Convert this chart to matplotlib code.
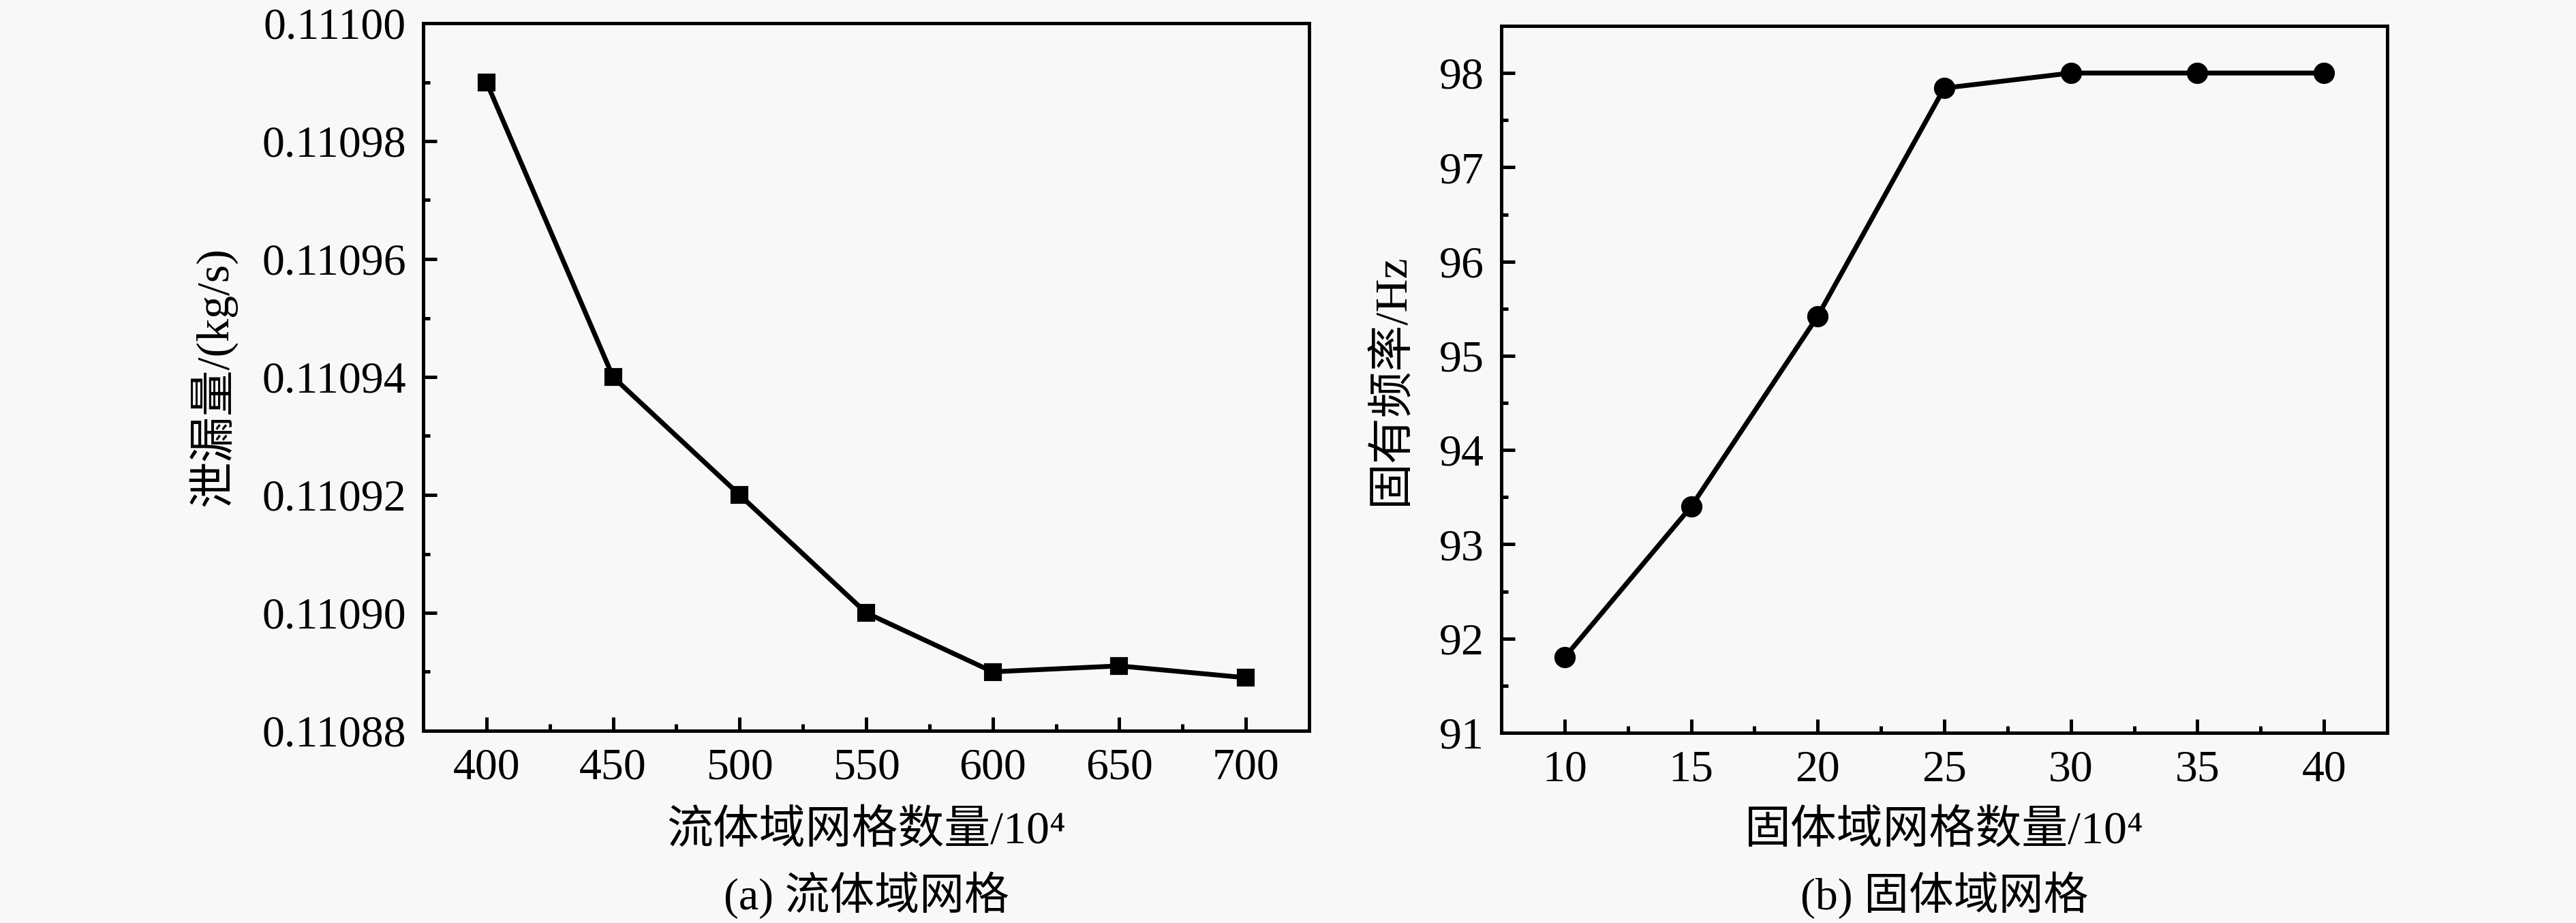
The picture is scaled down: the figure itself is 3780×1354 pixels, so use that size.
import matplotlib
matplotlib.use("Agg")
import matplotlib.pyplot as plt
from matplotlib.ticker import MultipleLocator, FormatStrFormatter

# ---- data ----
fluid_mesh = [400, 450, 500, 550, 600, 650, 700]
leakage = [0.11099, 0.11094, 0.11092, 0.11090, 0.110890, 0.110891, 0.110889]

solid_mesh = [10, 15, 20, 25, 30, 35, 40]
frequency = [91.80, 93.40, 95.42, 97.84, 98.00, 98.00, 98.00]

left_xlabel = "流体域网格数量/10⁴"
left_ylabel = "泄漏量/(kg/s)"
left_caption = "(a) 流体域网格"
right_xlabel = "固体域网格数量/10⁴"
right_ylabel = "固有频率/Hz"
right_caption = "(b) 固体域网格"

FAM = ["Liberation Serif", "DejaVu Serif", "Noto Sans CJK SC"]
plt.rcParams["font.family"] = FAM
plt.rcParams["axes.unicode_minus"] = False
BG = "#f8f8f8"
FS = 15.8
FS_LAB = 16.3

fig = plt.figure(figsize=(12.6, 1354 / 300), dpi=300, facecolor=BG)

W, H = 3780, 1354


def make_axes(l, r, t, b):
    return fig.add_axes([l / W, 1 - b / H, (r - l) / W, (b - t) / H])


axL = make_axes(621, 1921, 34, 1072)
axR = make_axes(2203, 3503, 38, 1075)

for ax in (axL, axR):
    ax.set_facecolor(BG)
    for s in ax.spines.values():
        s.set_linewidth(1.2)
    ax.tick_params(which="both", direction="in", top=False, right=False,
                   labelsize=FS, width=1.2, pad=6)
    ax.tick_params(which="major", length=4.8)
    ax.tick_params(which="minor", length=2.4)

axL.plot(fluid_mesh, leakage, color="black", lw=1.7, marker="s", ms=5.5)
axL.set_xlim(375, 725)
axL.set_ylim(0.11088, 0.11100)
axL.xaxis.set_major_locator(MultipleLocator(50))
axL.xaxis.set_minor_locator(MultipleLocator(25))
axL.yaxis.set_major_locator(MultipleLocator(0.00002))
axL.yaxis.set_minor_locator(MultipleLocator(0.00001))
axL.yaxis.set_major_formatter(FormatStrFormatter("%.5f"))

axR.plot(solid_mesh, frequency, color="black", lw=1.7, marker="o", ms=6.5)
axR.set_xlim(7.5, 42.5)
axR.set_ylim(91, 98.5)
axR.xaxis.set_major_locator(MultipleLocator(5))
axR.xaxis.set_minor_locator(MultipleLocator(2.5))
axR.yaxis.set_major_locator(MultipleLocator(1))
axR.yaxis.set_minor_locator(MultipleLocator(0.5))
axR.yaxis.set_major_formatter(FormatStrFormatter("%d"))


def labels(ax, xl, yl, cap, left, top, bottom, ylab_x):
    w = 1300
    h = bottom - top
    ax.set_xlabel(xl, fontsize=FS_LAB, va="center")
    ax.xaxis.set_label_coords(0.5, (bottom - 1220) / h)
    ax.set_ylabel(yl, fontsize=FS_LAB, va="center")
    ax.yaxis.set_label_coords((ylab_x - left) / w, 0.5)
    ax.text(0.5, (bottom - 1313) / h, cap, transform=ax.transAxes,
            ha="center", va="center", fontsize=FS)


labels(axL, left_xlabel, left_ylabel, left_caption, 621, 34, 1072, 312)
labels(axR, right_xlabel, right_ylabel, right_caption, 2203, 38, 1075, 2042)

fig.savefig("out.png", dpi=300, facecolor=BG)
